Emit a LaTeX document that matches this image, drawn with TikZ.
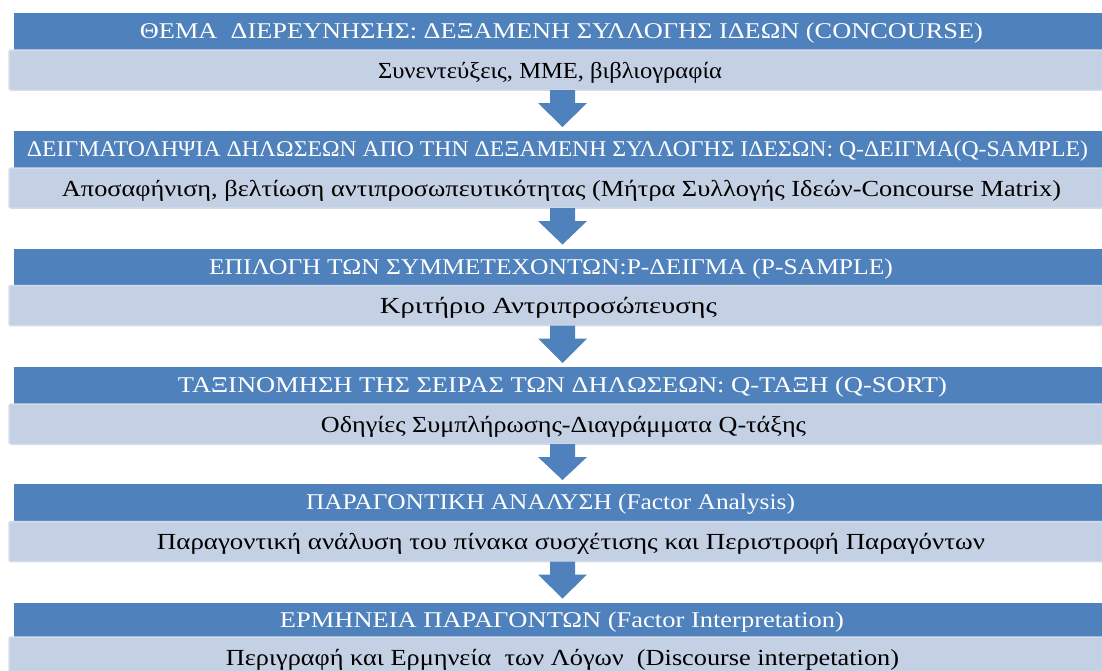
\documentclass[tikz,border=0pt]{standalone}
\usepackage{fontspec}
\setmainfont{Liberation Serif}
\usetikzlibrary{calc}
\definecolor{hblue}{RGB}{79,129,189}
\definecolor{subfill}{RGB}{196,208,227}
\definecolor{subedge}{RGB}{212,220,235}
% horizontally fitted text: #1 target width, #2 text
\newcommand\fitw[2]{\resizebox{#1pt}{\height}{#2}}
% block arrow from the bottom of one bar to the top of the next
\newcommand\stagearrow[2]{%
  \fill[hblue] let \p1=(#1.south), \p2=(#2.north) in
    (550pt,\y1) -- (575pt,\y1) -- (575pt,\y1-13pt) -- (587pt,\y1-13pt)
    -- (562.5pt,\y2+4pt) -- (538pt,\y1-13pt) -- (550pt,\y1-13pt) -- cycle;}
\begin{document}
\begin{tikzpicture}[x=1pt,y=-1pt,
  hdr/.style={rectangle,fill=hblue,minimum width=1096pt,minimum height=37pt,
    inner sep=0pt,outer sep=0pt},
  sub/.style={rectangle,fill=subfill,draw=subedge,line width=1.5pt,rounded corners=2pt,
    minimum width=1101pt,minimum height=40pt,inner sep=0pt,outer sep=0pt},
  htxt/.style={anchor=base,inner sep=0pt,text=white,font=\fontsize{22.5}{25}\selectfont},
  stxt/.style={anchor=base,inner sep=0pt,text=black,font=\fontsize{23}{26}\selectfont}]
\useasboundingbox (0,0) rectangle (1102,670);
\fill[white] (0,0) rectangle (1102,670);

% stage 1
\node[hdr] (h1) at (562,31.5) {};
\node[sub] (s1) at (559.5,70) {};
\node[htxt] (t1) at (561.5,38.5) {\fitw{843}{ΘΕΜΑ\ \ ΔΙΕΡΕΥΝΗΣΗΣ: ΔΕΞΑΜΕΝΗ ΣΥΛΛΟΓΗΣ ΙΔΕΩΝ (CONCOURSE)}};
\node[stxt] (u1) at (550,78) {\fitw{344}{Συνεντεύξεις, ΜΜΕ, βιβλιογραφία}};

% stage 2
\node[hdr] (h2) at (562,149.5) {};
\node[sub] (s2) at (559.5,188) {};
\node[htxt] (t2) at (557.5,156.5) {\fitw{1061}{ΔΕΙΓΜΑΤΟΛΗΨΙΑ ΔΗΛΩΣΕΩΝ ΑΠΟ ΤΗΝ ΔΕΞΑΜΕΝΗ ΣΥΛΛΟΓΗΣ ΙΔΕΣΩΝ: Q-ΔΕΙΓΜΑ(Q-SAMPLE)}};
\node[stxt] (u2) at (561.5,196) {\fitw{999}{Αποσαφήνιση, βελτίωση αντιπροσωπευτικότητας (Μήτρα Συλλογής Ιδεών-Concourse Matrix)}};

% stage 3
\node[hdr] (h3) at (562,267) {};
\node[sub] (s3) at (559.5,305.5) {};
\node[htxt] (t3) at (551,274) {\fitw{684}{ΕΠΙΛΟΓΗ ΤΩΝ ΣΥΜΜΕΤΕΧΟΝΤΩΝ:P-ΔΕΙΓΜΑ (P-SAMPLE)}};
\node[stxt] (u3) at (548.5,313.5) {\fitw{337}{Κριτήριο Αντριπροσώπευσης}};

% stage 4
\node[hdr] (h4) at (562,385.5) {};
\node[sub] (s4) at (559.5,424) {};
\node[htxt] (t4) at (562.5,392.5) {\fitw{769}{ΤΑΞΙΝΟΜΗΣΗ ΤΗΣ ΣΕΙΡΑΣ ΤΩΝ ΔΗΛΩΣΕΩΝ: Q-ΤΑΞΗ (Q-SORT)}};
\node[stxt] (u4) at (563.5,432) {\fitw{485}{Οδηγίες Συμπλήρωσης-Διαγράμματα Q-τάξης}};

% stage 5
\node[hdr] (h5) at (562,502.5) {};
\node[sub] (s5) at (559.5,541.5) {};
\node[htxt] (t5) at (550.5,509.5) {\fitw{489}{ΠΑΡΑΓΟΝΤΙΚΗ ΑΝΑΛΥΣΗ (Factor Analysis)}};
\node[stxt] (u5) at (571,549.5) {\fitw{828}{Παραγοντική ανάλυση του πίνακα συσχέτισης και Περιστροφή Παραγόντων}};

% stage 6
\node[hdr,minimum height=35pt] (h6) at (562,620) {};
\node[sub] (s6) at (559.5,657) {};
\node[htxt] (t6) at (562,627) {\fitw{564}{ΕΡΜΗΝΕΙΑ ΠΑΡΑΓΟΝΤΩΝ (Factor Interpretation)}};
\node[stxt] (u6) at (562.5,665) {\fitw{673}{Περιγραφή και Ερμηνεία\ \ των Λόγων\ \ (Discourse interpetation)}};

% arrows between the stages
\stagearrow{s1}{h2}
\stagearrow{s2}{h3}
\stagearrow{s3}{h4}
\stagearrow{s4}{h5}
\stagearrow{s5}{h6}
\end{tikzpicture}
\end{document}
